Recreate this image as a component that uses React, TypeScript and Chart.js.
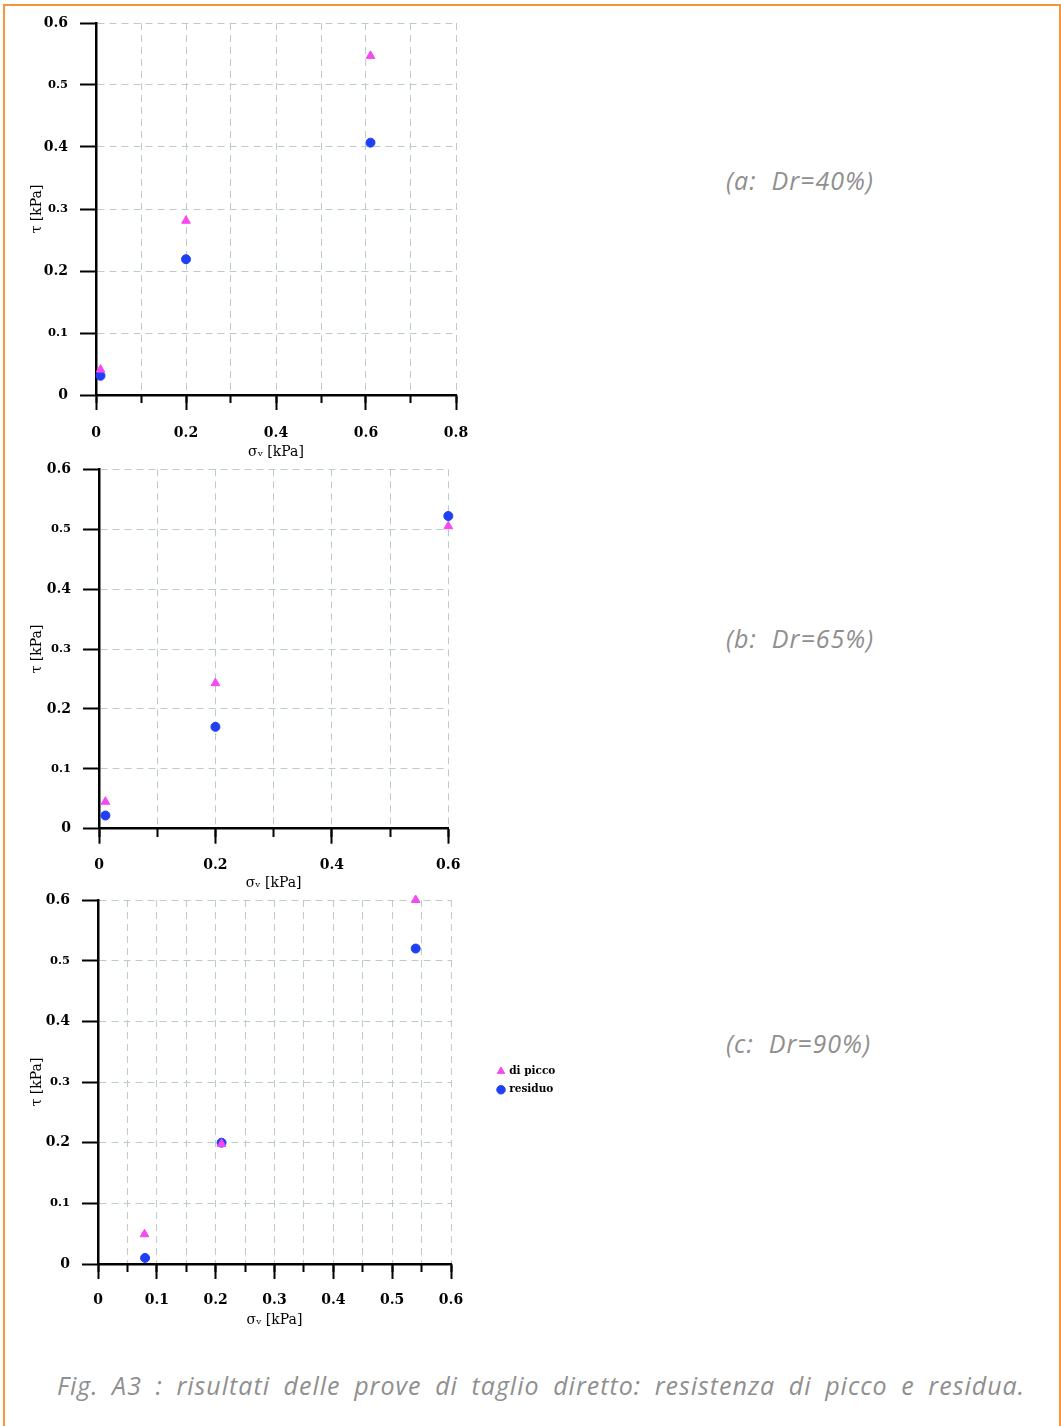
import React, { useEffect, useRef } from 'react';
import { Chart, registerables } from 'chart.js';

Chart.register(...registerables);

// ---------------- data ----------------
const seriesNames = ['di picco', 'residuo'];

// (a) Dr = 40%
const sigmaA = [0.01, 0.2, 0.61];
const tauPiccoA = [0.041, 0.281, 0.547];
const tauResiduoA = [0.031, 0.219, 0.407];

// (b) Dr = 65%
const sigmaB = [0.011, 0.2, 0.6];
const tauPiccoB = [0.045, 0.243, 0.505];
const tauResiduoB = [0.022, 0.17, 0.522];

// (c) Dr = 90%
const sigmaPiccoC = [0.079, 0.21, 0.54];
const sigmaResiduoC = [0.08, 0.21, 0.54];
const tauPiccoC = [0.049, 0.198, 0.6];
const tauResiduoC = [0.01, 0.2, 0.52];

// ticks
const yTickValues = [0, 0.1, 0.2, 0.3, 0.4, 0.5, 0.6];
const yTickLabels = ['0', '0.1', '0.2', '0.3', '0.4', '0.5', '0.6'];

const xMajorA = [0, 0.2, 0.4, 0.6, 0.8];
const xMajorLabelsA = ['0', '0.2', '0.4', '0.6', '0.8'];
const xMinorA = [0, 0.1, 0.2, 0.3, 0.4, 0.5, 0.6, 0.7, 0.8];

const xMajorB = [0, 0.2, 0.4, 0.6];
const xMajorLabelsB = ['0', '0.2', '0.4', '0.6'];
const xMinorB = [0, 0.1, 0.2, 0.3, 0.4, 0.5, 0.6];

const xMajorC = [0, 0.1, 0.2, 0.3, 0.4, 0.5, 0.6];
const xMajorLabelsC = ['0', '0.1', '0.2', '0.3', '0.4', '0.5', '0.6'];
const xMinorC = [0, 0.05, 0.1, 0.15, 0.2, 0.25, 0.3, 0.35, 0.4, 0.45, 0.5, 0.55, 0.6];

const xTitle = 'σᵥ [kPa]';
const yTitle = 'τ [kPa]';
const panelLabels = ['(a:  Dr=40%)', '(b:  Dr=65%)', '(c:  Dr=90%)'];
const caption = 'Fig. A3 : risultati delle prove di taglio diretto: resistenza di picco e residua.';

// ---------------- styles ----------------
const PICCO_COLOR = '#f648f0';
const RESIDUO_COLOR = '#1f3ff6';
const GRID_COLOR = '#bccbcc';
const NUM_FONT = '"DejaVu Serif", "Liberation Serif", serif';

type PanelProps = {
  top: number;
  width: number;
  height: number;
  area: { l: number; t: number; r: number; b: number };
  xMax: number;
  xMajor: number[];
  xMajorLabels: string[];
  xMinor: number[];
  picco: { x: number[]; y: number[] };
  residuo: { x: number[]; y: number[] };
  legend?: { left: number; top: number };
  xLabelPad: number;
  xTitlePad: number;
};

function Panel(p: PanelProps) {
  const ref = useRef<HTMLCanvasElement>(null);
  useEffect(() => {
    const canvas = ref.current;
    if (!canvas) return;
    const toPts = (s: { x: number[]; y: number[] }) => s.x.map((x, i) => ({ x, y: s.y[i] }));
    const legendMover = {
      id: 'legendMover',
      afterLayout(chart: any) {
        if (!p.legend) return;
        const lg = chart.legend;
        if (!lg) return;
        lg.left = p.legend.left;
        lg.right = p.legend.left + lg.width + 30;
        lg.top = p.legend.top;
        lg.bottom = p.legend.top + 80;
      },
    };
    const chart = new Chart(canvas, {
      type: 'scatter',
      data: {
        datasets: [
          {
            label: seriesNames[0],
            data: toPts(p.picco),
            pointStyle: 'triangle',
            pointRadius: 5,
            borderWidth: 1,
            backgroundColor: PICCO_COLOR,
            borderColor: PICCO_COLOR,
            xAxisID: 'x',
            yAxisID: 'y',
            clip: 12,
          } as any,
          {
            label: seriesNames[1],
            data: toPts(p.residuo),
            pointStyle: 'circle',
            pointRadius: 4.5,
            borderWidth: 1,
            backgroundColor: RESIDUO_COLOR,
            borderColor: RESIDUO_COLOR,
            xAxisID: 'x',
            yAxisID: 'y',
            clip: 12,
          } as any,
        ],
      },
      options: {
        animation: false,
        responsive: false,
        maintainAspectRatio: false,
        events: [],
        layout: { padding: { left: 0, top: p.area.t, right: p.width - p.area.r, bottom: 0 } },
        plugins: {
          tooltip: { enabled: false },
          legend: p.legend
            ? {
                display: true,
                position: 'chartArea',
                align: 'start',
                labels: {
                  usePointStyle: true,
                  boxWidth: 6,
                  boxHeight: 6,
                  padding: 8,
                  color: '#000',
                  font: { family: NUM_FONT, weight: 'bold', size: 10.5 },
                },
              }
            : { display: false },
        } as any,
        scales: {
          x: {
            type: 'linear',
            position: 'bottom',
            min: 0,
            max: p.xMax,
            afterBuildTicks: (s: any) => {
              s.ticks = p.xMajor.map((v) => ({ value: v }));
            },
            ticks: {
              autoSkip: false,
              maxRotation: 0,
              padding: p.xLabelPad,
              color: '#000',
              font: { family: NUM_FONT, weight: 'bold', size: 14 },
              callback: (_v: any, i: number) => p.xMajorLabels[i],
            },
            grid: {
              drawOnChartArea: false,
              tickLength: 15,
              tickColor: '#000',
              tickWidth: 2,
            },
            border: { color: '#000', width: 2.5 },
            title: {
              display: true,
              text: xTitle,
              color: '#000',
              font: { family: NUM_FONT, size: 14 },
              padding: { top: 0, bottom: p.xTitlePad },
            },
            afterFit: (s: any) => {
              s.height = p.height - p.area.b;
              s.paddingLeft = 0;
              s.paddingRight = 0;
            },
          },
          xm: {
            type: 'linear',
            axis: 'x',
            position: { y: 0 },
            min: 0,
            max: p.xMax,
            afterBuildTicks: (s: any) => {
              s.ticks = p.xMinor.map((v) => ({ value: v }));
            },
            ticks: { display: false },
            grid: {
              color: GRID_COLOR,
              lineWidth: 1,
              tickLength: 8,
              tickColor: '#000',
              tickWidth: 2,
            },
            border: { display: false, dash: [7, 5] },
            afterFit: (s: any) => {
              s.height = 0;
              s.paddingLeft = 0;
              s.paddingRight = 0;
            },
          },
          y: {
            type: 'linear',
            position: 'left',
            min: 0,
            max: 0.6,
            afterBuildTicks: (s: any) => {
              s.ticks = yTickValues.map((v) => ({ value: v }));
            },
            ticks: {
              padding: 12,
              color: '#000',
              font: (ctx: any) => ({
                family: NUM_FONT,
                weight: 'bold',
                size: ctx.index % 2 === 0 ? 14 : 11.5,
              }),
              callback: (_v: any, i: number) => yTickLabels[i],
            },
            grid: {
              color: GRID_COLOR,
              lineWidth: 1,
              tickLength: 16,
              tickColor: '#000',
              tickWidth: 2,
            },
            border: { color: '#000', width: 2.5, dash: [7, 5] },
            title: {
              display: true,
              text: yTitle,
              color: '#000',
              font: { family: NUM_FONT, size: 14 },
              padding: { top: 29, bottom: 0 },
            },
            afterFit: (s: any) => {
              s.width = p.area.l;
              s.paddingTop = 0;
              s.paddingBottom = 0;
            },
          },
        } as any,
      },
      plugins: [legendMover],
    } as any);
    return () => chart.destroy();
  }, []);
  return (
    <canvas
      ref={ref}
      width={p.width}
      height={p.height}
      style={{ position: 'absolute', left: 0, top: p.top, width: p.width, height: p.height }}
    />
  );
}

const TEXT_FONT = '"Open Sans", "DejaVu Sans", sans-serif';

const sideLabelStyle: React.CSSProperties = {
  position: 'absolute',
  left: 726,
  lineHeight: '30px',
  fontSize: 25,
  letterSpacing: 1,
  fontStyle: 'italic',
  fontWeight: 400,
  fontFamily: TEXT_FONT,
  color: '#8f8f8f',
  whiteSpace: 'pre',
};

export default function App() {
  return (
    <div
      style={{
        position: 'absolute',
        left: 0,
        top: 0,
        width: 1061,
        height: 1426,
        overflow: 'hidden',
        background: '#fff',
      }}
    >
      <div
        style={{
          position: 'absolute',
          left: 3,
          top: 4,
          width: 1058,
          height: 1500,
          border: '2px solid #f6953a',
          boxSizing: 'border-box',
        }}
      />
      <Panel
        top={0}
        width={480}
        height={465}
        area={{ l: 96, t: 23, r: 456, b: 395 }}
        xMax={0.8}
        xMajor={xMajorA}
        xMajorLabels={xMajorLabelsA}
        xMinor={xMinorA}
        picco={{ x: sigmaA, y: tauPiccoA }}
        residuo={{ x: sigmaA, y: tauResiduoA }}
        xLabelPad={14.6}
        xTitlePad={4.6}
      />
      <Panel
        top={455}
        width={480}
        height={440}
        area={{ l: 99, t: 14.3, r: 448.3, b: 373.7 }}
        xMax={0.6}
        xMajor={xMajorB}
        xMajorLabels={xMajorLabelsB}
        xMinor={xMinorB}
        picco={{ x: sigmaB, y: tauPiccoB }}
        residuo={{ x: sigmaB, y: tauResiduoB }}
        xLabelPad={13}
        xTitlePad={3.6}
      />
      <Panel
        top={885}
        width={600}
        height={450}
        area={{ l: 98, t: 15, r: 451, b: 379 }}
        xMax={0.6}
        xMajor={xMajorC}
        xMajorLabels={xMajorLabelsC}
        xMinor={xMinorC}
        picco={{ x: sigmaPiccoC, y: tauPiccoC }}
        residuo={{ x: sigmaResiduoC, y: tauResiduoC }}
        legend={{ left: 490, top: 173 }}
        xLabelPad={12.6}
        xTitlePad={6.6}
      />
      <div style={{ ...sideLabelStyle, top: 165 }}>{panelLabels[0]}</div>
      <div style={{ ...sideLabelStyle, top: 623 }}>{panelLabels[1]}</div>
      <div style={{ ...sideLabelStyle, top: 1028 }}>{panelLabels[2]}</div>
      <div
        style={{
          position: 'absolute',
          left: 57,
          top: 1370,
          width: 968,
          lineHeight: '30px',
          fontSize: 25,
          letterSpacing: 1,
          fontStyle: 'italic',
          fontWeight: 400,
          fontFamily: TEXT_FONT,
          color: '#8f8f8f',
          textAlign: 'justify',
          textAlignLast: 'justify',
          whiteSpace: 'nowrap',
        }}
      >
        {caption}
      </div>
    </div>
  );
}
